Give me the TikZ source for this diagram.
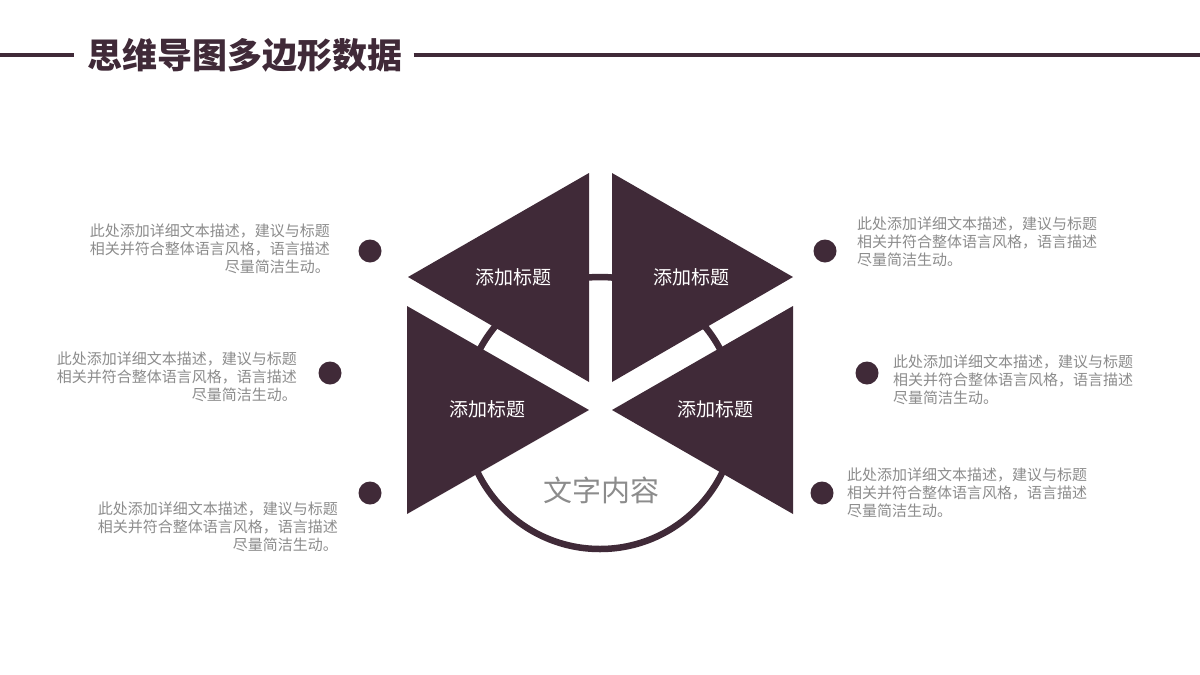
\documentclass[tikz,border=0pt]{standalone}
\usepackage{fontspec}
\setmainfont{Noto Sans CJK SC}
\newfontfamily\cjk{Noto Sans CJK SC}
\definecolor{mainc}{RGB}{64,42,56}
\definecolor{txtg}{RGB}{140,140,140}
\begin{document}
\begin{tikzpicture}[x=1pt,y=-1pt,
  desc/.style={inner sep=0pt,text=txtg,font=\cjk\fontsize{15}{18}\selectfont},
  dot/.style={circle,fill=mainc,minimum size=23pt,inner sep=0pt},
  tlabel/.style={text=white,font=\cjk\fontsize{19}{20}\selectfont,inner sep=0pt},
  tri/.style={fill=mainc}]
\useasboundingbox (0,0) rectangle (1200,675);
\fill[white] (0,0) rectangle (1200,675);
% header
\node[inner sep=0pt,text=mainc,font=\cjk\bfseries\fontsize{35}{38}\selectfont] (title) at (245,55) {思维导图多边形数据};
\coordinate (l0) at (0,55);
\coordinate (r0) at (1200,55);
\draw[mainc,line width=4pt] (l0) -- ([xshift=-13pt]title.west);
\draw[mainc,line width=4pt] ([xshift=11pt]title.east) -- (r0);
% ring
\coordinate (c) at (600,413);
\draw[mainc,line width=6.5pt] (c) circle[radius=136];
% triangles
\fill[tri] (589,173) -- (408,277) -- (589,382) -- cycle;
\fill[tri] (612,173) -- (793,277) -- (612,382) -- cycle;
\fill[tri] (407,306) -- (589,410) -- (407,514) -- cycle;
\fill[tri] (793,306) -- (612,410) -- (793,514) -- cycle;
\node[tlabel] (t1) at (513,277) {添加标题};
\node[tlabel] (t2) at (691,277) {添加标题};
\node[tlabel] (t3) at (487,409) {添加标题};
\node[tlabel] (t4) at (715,409) {添加标题};
\node[inner sep=0pt,text=txtg,font=\cjk\fontsize{29}{32}\selectfont] (center) at (601,490) {文字内容};
% dots
\node[dot] (d1) at (370,251) {};
\node[dot] (d2) at (330,373) {};
\node[dot] (d3) at (370,493) {};
\node[dot] (d4) at (825,251) {};
\node[dot] (d5) at (867,373) {};
\node[dot] (d6) at (822,493) {};
% descriptions
\node[desc,anchor=east,align=right] (p1) at (330,249) {此处添加详细文本描述，建议与标题\\相关并符合整体语言风格，语言描述\\尽量简洁生动。};
\node[desc,anchor=east,align=right] (p2) at (297,377) {此处添加详细文本描述，建议与标题\\相关并符合整体语言风格，语言描述\\尽量简洁生动。};
\node[desc,anchor=east,align=right] (p3) at (338,527) {此处添加详细文本描述，建议与标题\\相关并符合整体语言风格，语言描述\\尽量简洁生动。};
\node[desc,anchor=west,align=left] (p4) at (857,242) {此处添加详细文本描述，建议与标题\\相关并符合整体语言风格，语言描述\\尽量简洁生动。};
\node[desc,anchor=west,align=left] (p5) at (893,380) {此处添加详细文本描述，建议与标题\\相关并符合整体语言风格，语言描述\\尽量简洁生动。};
\node[desc,anchor=west,align=left] (p6) at (847,493) {此处添加详细文本描述，建议与标题\\相关并符合整体语言风格，语言描述\\尽量简洁生动。};
\end{tikzpicture}
\end{document}
